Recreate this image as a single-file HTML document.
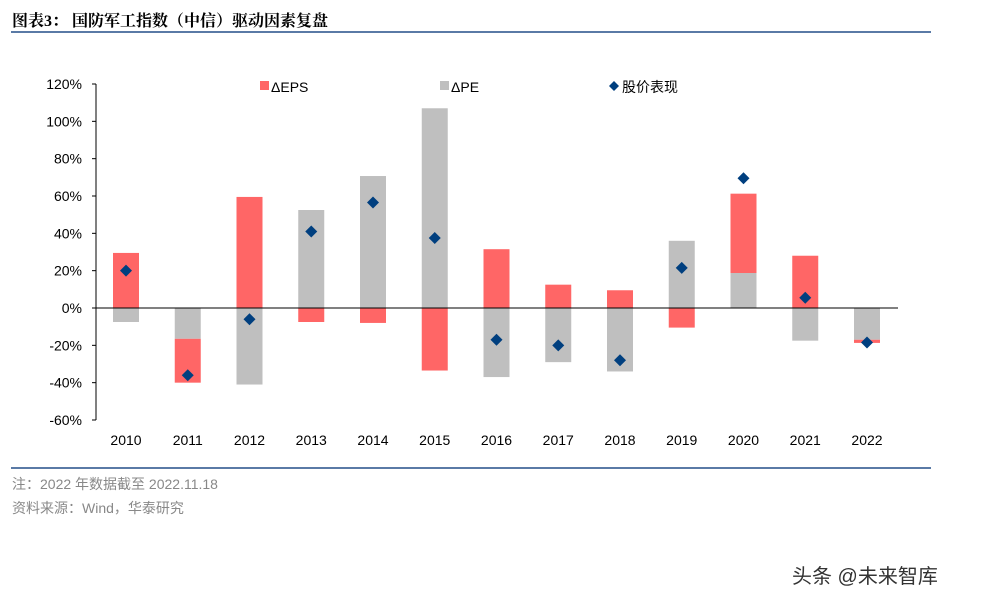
<!DOCTYPE html>
<html><head><meta charset="utf-8"><style>
body{margin:0;width:991px;height:601px;background:#fff;position:relative;overflow:hidden;font-family:"Liberation Sans","Noto Sans CJK SC",sans-serif}
.t{position:absolute;white-space:nowrap}
</style></head><body>
<div class="t" style="left:12px;top:8px;font-size:16px;font-weight:bold;font-family:'Liberation Serif','Noto Serif CJK SC',serif">图表3：&nbsp;国防军工指数（中信）驱动因素复盘</div>
<div style="position:absolute;left:11px;top:31px;width:920px;height:2px;background:#5a7aa6"></div>
<div style="position:absolute;left:11px;top:467px;width:920px;height:2px;background:#5a7aa6"></div>
<div class="t" style="left:12px;top:474px;font-size:14px;color:#888">注：2022 年数据截至 2022.11.18</div>
<div class="t" style="left:12px;top:498px;font-size:14px;color:#888">资料来源：Wind，华泰研究</div>
<div class="t" style="left:792px;top:560px;font-size:20px;color:#333">头条 @未来智库</div>
<svg id="c" width="991" height="601" style="position:absolute;left:0;top:0"></svg>
<script>
const years=['2010','2011','2012','2013','2014','2015','2016','2017','2018','2019','2020','2021','2022'];
const eps=[29.5,-23.5,59.5,-7.5,-8,-33.5,31.5,12.5,9.5,-10.5,42.5,28,-1.7];
const pe=[-7.5,-16.5,-41,52.5,70.7,107,-37,-29,-34,36,18.75,-17.5,-17];
const price=[20,-36,-6,41,56.5,37.5,-17,-20,-28,21.5,69.5,5.5,-18.5];
const ticks=[-60,-40,-20,0,20,40,60,80,100,120];
const svg=document.getElementById('c');const NS='http://www.w3.org/2000/svg';
function y(v){return 308-v*336/180;}
function x(i){return 126+i*61.75;}
function mk(t,a){const e=document.createElementNS(NS,t);for(const k in a)e.setAttribute(k,a[k]);svg.appendChild(e);return e;}
let e=mk('line',{x1:96,y1:y(120),x2:96,y2:y(-60),stroke:'#000'});

ticks.forEach(t=>{
 let l=mk('line',{x1:92,y1:y(t),x2:96,y2:y(t),stroke:'#000'});
 
 let tx=mk('text',{x:82,y:y(t)+5,'text-anchor':'end','font-size':14,'font-family':'Liberation Sans'});tx.textContent=t+'%';
 
});
years.forEach((yr,i)=>{
 let pos=0,neg=0;
 [[pe[i],'#bfbfbf','bar-pe'],[eps[i],'#ff6666','bar-eps']].forEach(([v,c,n])=>{
  let a,b;if(v>=0){a=pos;b=pos+v;pos=b;}else{a=neg;b=neg+v;neg=b;}
  let r=mk('rect',{x:x(i)-13,y:Math.min(y(a),y(b)),width:26,height:Math.abs(y(a)-y(b)),fill:c});
  
 });
 let px=x(i),py=y(price[i]);
 let d=mk('polygon',{points:`${px},${py-6} ${px+6},${py} ${px},${py+6} ${px-6},${py}`,fill:'#003f7f'});
 
 let tx=mk('text',{x:px,y:445,'text-anchor':'middle','font-size':14,'font-family':'Liberation Sans'});tx.textContent=yr;
 
});
let ax=mk('line',{x1:96,y1:y(0),x2:898,y2:y(0),stroke:'#000'});

let g;
g=mk('rect',{x:260,y:81,width:9,height:9,fill:'#ff6666'});
g=mk('text',{x:271,y:92,'font-size':14,'font-family':'Liberation Sans'});g.textContent='ΔEPS';
g=mk('rect',{x:440,y:81,width:9,height:9,fill:'#bfbfbf'});
g=mk('text',{x:451,y:92,'font-size':14,'font-family':'Liberation Sans'});g.textContent='ΔPE';
g=mk('polygon',{points:'614,81 619,86 614,91 609,86',fill:'#003f7f'});
g=mk('text',{x:622,y:92,'font-size':14,'font-family':'Liberation Sans, Noto Sans CJK SC, sans-serif'});g.textContent='股价表现';
</script>
</body></html>
